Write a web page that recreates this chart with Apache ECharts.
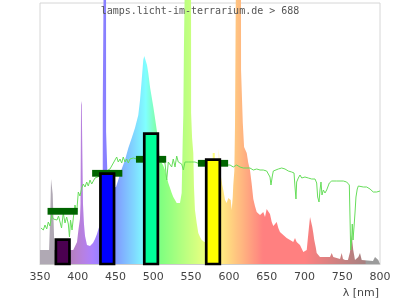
<!DOCTYPE html>
<html><head><meta charset="utf-8">
<script src="https://cdn.jsdelivr.net/npm/echarts@6.0.0/dist/echarts.min.js"></script>
<style>html,body{margin:0;padding:0;background:#fff}#c{width:400px;height:300px}</style>
</head><body><div id="c"></div>
<script>
// Lamp spectrum (relative intensity)
const specNm = [350,362,363.2,363.6,364.6,366.5,366.8,368.5,369.2,391,394,396.3,399,401,402.9,403.6,404.3,405.2,406.5,406.9,408.2,409.6,412.2,416.2,420.1,422.8,425.4,427.4,428.7,431,433,433.1,434.3,434.4,437.4,437.5,439.6,439.8,450.6,453.6,458.1,462.5,466.9,471.4,475.7,480.1,482.4,484.6,486.7,488.0,489.9,491.6,493.3,495.6,497.8,500.0,502.2,504.5,506.2,507.9,508.8,512.8,515.4,517.7,519.8,522.1,524.3,526.4,528.7,530.9,535.3,537.5,538.9,539.7,540.5,541.9,542.0,549.9,550.0,551.2,551.3,552.1,552.9,553.8,555.1,557.4,559.5,561.8,564.0,566.1,567.5,578.3,578.6,581.3,581.6,586.3,586.6,588.9,589.4,590.5,590.9,592.6,594.9,597.1,599.2,600.5,602.4,603.7,605.1,605.8,607.2,608.1,609.3,609.4,616.0,616.1,618.3,618.4,620.0,620.1,622.6,623.6,625.7,627.9,630.2,632.3,634.5,636.8,638.9,641.2,643.4,645.5,647.8,650.0,652.2,654.4,656.7,658.8,661.0,663.3,665.4,667.6,669.9,672.0,674.3,676.5,678.6,680.9,683.1,685.2,687.5,689.7,691.9,694.1,696.4,698.5,700.7,703.0,704.3,706.0,707.4,708.7,710.4,711.7,713.0,714.9,716.2,718.3,720.6,733.8,736.1,738.2,740.4,747.1,749.3,751.0,753.7,757.6,760.3,762.5,764.6,766.9,771.3,773.5,775.8,777.5,790.7,793.4,795.6,797.7,800];
const specVal = [14,14,14,50,85,85,70,70,14,14,14,16,22,35,45,60,159,163,163,60,40,28,19,18,21,25,30,35,38,50,60,162,162,300,300,132,132,75,77,84,95,104,116,126,136,149,164,184,204,208,206,199,191,177,167,157,146,134,125,112,104,99,94,87,81,76,71,67,64,61,61,71,124,149,216,216,300,300,151,151,126,126,111,77,54,41,31,27,24,22,22,22,111,111,22,22,115,115,80,87,80,74,64,61,66,67,64,54,67,79,93,139,139,300,300,194,194,141,141,117,117,111,101,94,80,65,58,52,51,49,51,52,47,55,57,50,42,38,40,42,36,32,31,29,27,26,26,24,24,22,26,22,21,19,17,12,11,14,24,37,47,47,37,31,24,17,11,9,7,7,11,7,5,5,11,5,4,4,12,29,14,4,7,11,4,3,3,7,9,4,3];

// Reference (daylight) spectrum
const refNm = [351.3,354.4,356.6,358.9,361.0,363.2,365.5,367.6,369.9,372.5,374.5,376.5,378.5,380.8,383.1,385.3,387.5,389.0,390.4,392.4,394.1,396.3,398.6,400.7,402.9,405.2,407.3,409.6,411.8,413.9,416.2,418.4,422.8,429.4,436.0,442.6,449.3,451.5,453.6,455.9,458.1,460.2,462.5,464.7,466.9,469.1,471.4,473.5,475.7,482.4,495.6,508.8,515.4,517.7,519.8,522.1,524.3,526.4,528.7,530.9,533.0,535.3,537.5,539.7,541.9,544.2,546.3,548.5,550.8,552.9,555.1,561.8,575.0,588.2,601.5,605.8,610.3,614.7,619.1,623.6,627.9,632.3,636.8,641.2,645.5,650.0,652.2,654.4,655.7,657.5,658.8,661.0,665.4,669.9,674.3,678.6,683.1,686.2,687.5,688.8,689.7,691.9,694.1,696.4,698.5,700.7,705.1,709.6,714.0,716.2,717.5,719.3,720.6,721.9,723.2,725.0,727.2,729.4,731.6,732.9,736.1,738.2,742.7,747.1,751.4,755.9,758.0,759.4,760.3,761.2,762.5,763.3,764.3,765.6,766.9,768.2,769.9,771.3,773.5,777.9,782.4,786.8,789.0,791.1,793.4,795.6,797.7,800];
const refVal = [36,34,39,35,42,38,49,45,47,44,48,42,36,51,41,47,40,27,44,34,46,59,52,72,68,76,80,77,82,78,84,80,86,88,92,95,104,107,102,105,101,107,102,105,101,105,103,106,105,104,104,103,101,84,102,104,97,105,97,108,102,104,100,94,102,104,102,103,102,104,102,100,99,99,99,97,99,97,96,96,96,94,95,94,94,93,92,87,79,88,93,94,95,96,95,93,92,91,77,65,82,86,89,86,87,87,86,85,85,81,67,62,74,82,69,74,71,74,72,81,83,82,83,83,83,82,81,79,47,14,24,40,24,37,51,67,75,78,77,77,77,75,74,72,74,72,74,73];

// Bands
const bandCenters = [380, 439, 497, 579];
const bandBars = [24.4, 90.4, 130.4, 104.4];
const bandMarks = [52.7, 90.7, 104.7, 100.7];
const bandColors = ['#4b0050', '#0000ff', '#00ff99', '#ffff00'];
const xTicks = [350, 400, 450, 500, 550, 600, 650, 700, 750, 800];

function wlColor(w) {
  if (w < 380) return 'rgb(176,169,180)';
  if (w >= 781) return 'rgb(155,155,155)';
  let r = 0, g = 0, b = 0;
  if (w < 440) { r = (440 - w) / 60; b = 1; }
  else if (w < 490) { g = (w - 440) / 50; b = 1; }
  else if (w < 510) { g = 1; b = (510 - w) / 20; }
  else if (w < 580) { r = (w - 510) / 70; g = 1; }
  else if (w < 645) { r = 1; g = (645 - w) / 65; }
  else { r = 1; }
  let f = 1;
  if (w < 420) f = 0.3 + 0.7 * (w - 380) / 40;
  else if (w > 700) f = 0.3 + 0.7 * (780 - w) / 80;
  const c = v => Math.round(128 + 127 * v * f);
  return 'rgb(' + c(r) + ',' + c(g) + ',' + c(b) + ')';
}
const stops = [];
for (let w = 350; w <= 800; w += 2) stops.push({ offset: (w - 350) / 450, color: wlColor(w) });

const chart = echarts.init(document.getElementById('c'), null, { renderer: 'canvas' });
const X0 = xTicks[0], X1 = xTicks[xTicks.length - 1];
chart.setOption({
  animation: false,
  grid: { left: 40, right: 20, top: 3, bottom: 36, show: true, borderColor: '#d6d6d6', borderWidth: 1, backgroundColor: 'transparent' },
  xAxis: {
    type: 'value', min: X0, max: X1, interval: 50,
    axisLine: { show: true, lineStyle: { color: '#cccccc', width: 1 } },
    axisTick: { show: false }, splitLine: { show: false },
    axisLabel: { color: '#444', fontSize: 11, fontFamily: 'DejaVu Sans', margin: 8 }
  },
  yAxis: { type: 'value', min: 0, max: 261, show: false, splitLine: { show: false } },
  graphic: [
    { type: 'text', x: 200, y: 11, z: 100, style: { text: 'lamps.licht-im-terrarium.de > 688', fontSize: 10, fontFamily: 'DejaVu Sans Mono', fill: '#555', align: 'center', verticalAlign: 'middle' } },
    { type: 'text', x: 379, y: 293, z: 100, style: { text: 'λ [nm]', fontSize: 11, fontFamily: 'DejaVu Sans', fill: '#444', align: 'right', verticalAlign: 'middle' } }
  ],
  series: [
    {
      type: 'line', z: 1, clip: false, showSymbol: false, silent: true,
      data: specNm.map((w, i) => [w, specVal[i]]),
      lineStyle: { width: 0 },
      areaStyle: { opacity: 1, color: new echarts.graphic.LinearGradient(0, 0, 1, 0, stops) }
    },
    {
      type: 'line', z: 2, showSymbol: false, silent: true,
      data: refNm.map((w, i) => [w, refVal[i]]),
      lineStyle: { width: 1, color: '#66dd5a' }
    },
    {
      type: 'custom', z: 3, silent: true,
      data: bandCenters.map((c, i) => [c, bandMarks[i]]),
      renderItem: function (params, api) {
        const c = api.value(0), v = api.value(1);
        const p0 = api.coord([c - 20, v]), p1 = api.coord([c + 20, v]);
        return { type: 'rect', shape: { x: p0[0], y: p0[1] - 3.4, width: p1[0] - p0[0], height: 6.8 }, style: { fill: '#006400' } };
      }
    },
    {
      type: 'custom', z: 4, silent: true,
      data: bandCenters.map((c, i) => [c, bandBars[i]]),
      renderItem: function (params, api) {
        const c = api.value(0), v = api.value(1);
        const p0 = api.coord([c - 9, v]), p1 = api.coord([c + 9, 0]);
        return { type: 'rect', shape: { x: p0[0], y: p0[1], width: p1[0] - p0[0], height: p1[1] - p0[1] }, style: { fill: bandColors[params.dataIndex], stroke: '#000', lineWidth: 2.7 } };
      }
    }
  ]
});
</script></body></html>
